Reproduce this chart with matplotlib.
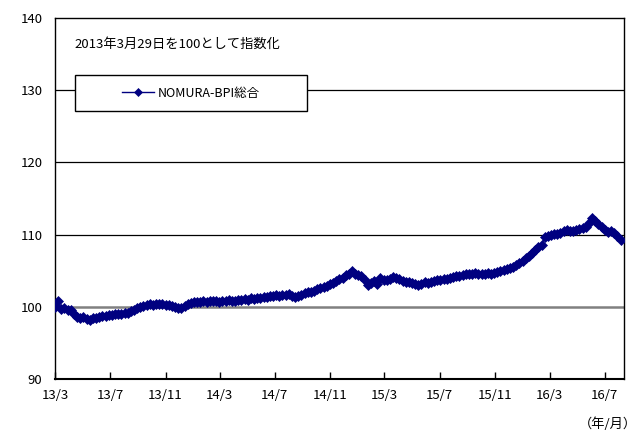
import numpy as np
import pandas as pd
import matplotlib
matplotlib.use("Agg")
from matplotlib import pyplot as plt
from matplotlib.patches import Rectangle

plt.rcParams['font.family'] = ['Noto Sans CJK JP', 'DejaVu Sans']

# weekly index, 2013/3/29 = 100
start = "2013-03-29"
values = [
    100.00, 100.75, 99.70, 99.85, 99.60, 99.55, 99.00, 98.60, 98.40, 98.55,
    98.35, 98.20, 98.45, 98.50, 98.60, 98.75, 98.70, 98.90, 98.80, 99.00,
    98.95, 99.05, 99.20, 99.15, 99.35, 99.60, 99.85, 100.00, 100.15, 100.30,
    100.40, 100.30, 100.45, 100.35, 100.40, 100.20, 100.30, 100.10, 100.00, 99.90,
    99.80, 100.10, 100.45, 100.55, 100.60, 100.70, 100.65, 100.80, 100.70, 100.75,
    100.85, 100.80, 100.70, 100.85, 100.75, 100.90, 100.80, 100.85, 101.00, 100.90,
    101.05, 101.00, 101.15, 101.10, 101.25, 101.20, 101.35, 101.40, 101.50, 101.45,
    101.60, 101.55, 101.70, 101.65, 101.75, 101.50, 101.30, 101.55, 101.70, 101.85,
    102.10, 102.05, 102.25, 102.40, 102.60, 102.75, 102.85, 103.10, 103.30, 103.55,
    103.80, 104.05, 104.35, 104.60, 104.90, 104.60, 104.40, 104.20, 103.70, 103.05,
    103.30, 103.55, 103.10, 104.00, 103.70, 103.75, 103.85, 104.10, 104.00, 103.85,
    103.60, 103.50, 103.40, 103.30, 103.15, 103.00, 103.20, 103.40, 103.30, 103.45,
    103.60, 103.70, 103.75, 103.90, 103.85, 104.05, 104.10, 104.20, 104.30, 104.45,
    104.50, 104.60, 104.55, 104.65, 104.60, 104.60, 104.55, 104.70, 104.60, 104.65,
    104.85, 105.00, 105.10, 105.25, 105.40, 105.55, 105.80, 106.10, 106.40, 106.70,
    107.00, 107.40, 107.90, 108.30, 108.60, 109.60, 109.80, 110.00, 110.05, 110.15,
    110.25, 110.45, 110.70, 110.55, 110.50, 110.60, 110.75, 110.90, 111.10, 111.60,
    112.30, 111.90, 111.40, 111.10, 110.70, 110.40, 110.50, 110.20, 109.80, 109.30,
]
tick_dates = ["2013-03-29", "2013-07-29", "2013-11-29", "2014-03-29", "2014-07-29",
              "2014-11-29", "2015-03-29", "2015-07-29", "2015-11-29", "2016-03-29",
              "2016-07-29"]
tick_labels = ["13/3", "13/7", "13/11", "14/3", "14/7", "14/11",
               "15/3", "15/7", "15/11", "16/3", "16/7"]
series_name = "NOMURA-BPI総合"

dates = pd.date_range(start, periods=len(values), freq="7D")

fig = plt.figure(figsize=(6.42, 4.40), dpi=100)
ax = fig.add_axes([55/642, 61/440, 569/642, 361/440])

ax.plot(dates, values, color="#000080", lw=1, marker="D", ms=5.2,
        mec="#000080", mew=0.5, label=series_name, zorder=3)

ax.set_ylim(90, 140)
ax.set_yticks(range(90, 141, 10))
ax.set_xlim(dates[0], dates[0] + pd.Timedelta(days=7 * 180.1))
ax.set_xticks(pd.to_datetime(tick_dates))
ax.set_xticklabels(tick_labels)

for y in (110, 120, 130):
    ax.axhline(y, color="black", lw=0.9, zorder=1)
ax.axhline(100, color="#808080", lw=1.8, zorder=1)

for s in ax.spines.values():
    s.set_color("black")
    s.set_linewidth(1.0)
ax.spines["bottom"].set_linewidth(1.5)

ax.tick_params(axis="x", direction="in", length=5, width=1, pad=7,
               labelsize=9.5)
ax.tick_params(axis="y", length=0, pad=9, labelsize=9.5)

ax.text(0.035, 0.928, "2013年3月29日を100として指数化", transform=ax.transAxes,
        fontsize=9.5, va="center", ha="left")

# legend box
ax.add_patch(Rectangle((0.035, 0.742), 0.408, 0.1, transform=ax.transAxes,
                       facecolor="white", edgecolor="black", lw=1, zorder=4))
leg = ax.legend(loc="center", bbox_to_anchor=(0.035, 0.742, 0.408, 0.1),
                frameon=False, fontsize=9, handlelength=2.6, handletextpad=0.3)
for h in leg.get_lines():
    h.set_markersize(4)

fig.text(0.992, 0.036, "（年/月）", ha="right", va="center", fontsize=9.5)

fig.savefig("out.png", dpi=100)
